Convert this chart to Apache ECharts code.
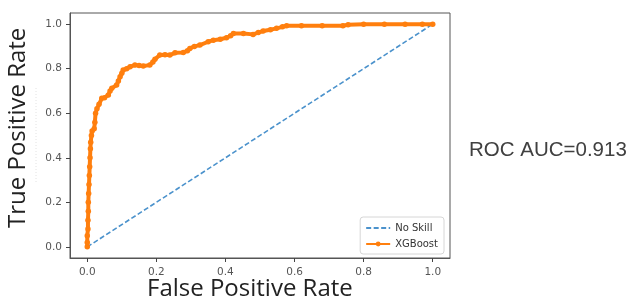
<!DOCTYPE html>
<html>
<head>
<meta charset="utf-8">
<script src="https://cdn.jsdelivr.net/npm/echarts@6/dist/echarts.min.js"></script>
<style>
  html, body { margin: 0; padding: 0; background: #fff; }
  #chart { width: 632px; height: 302px; }
</style>
</head>
<body>
<div id="chart"></div>
<script>
// tick values shown on both axes
const tickValues = [0, 0.2, 0.4, 0.6, 0.8, 1.0];

// No Skill diagonal
const noSkillFpr = [0, 1];
const noSkillTpr = [0, 1];

// XGBoost ROC curve
const xgbFpr = [0, 0, 0, 0.002, 0.002, 0.003, 0.003, 0.004, 0.005, 0.006, 0.007, 0.008, 0.009, 0.010, 0.012, 0.014, 0.020, 0.022, 0.024, 0.028,
  0.034, 0.042, 0.050, 0.061, 0.066, 0.071, 0.085, 0.090, 0.095, 0.100, 0.104, 0.114, 0.124, 0.138, 0.150, 0.162, 0.181, 0.190, 0.196, 0.210,
  0.225, 0.239, 0.254, 0.278, 0.290, 0.297, 0.310, 0.326, 0.350, 0.365, 0.385, 0.403, 0.415, 0.423, 0.452, 0.480, 0.495, 0.509, 0.530, 0.548,
  0.565, 0.577, 0.620, 0.680, 0.740, 0.755, 0.800, 0.860, 0.920, 0.970, 1.0];
const xgbTpr = [0, 0.02, 0.05, 0.08, 0.12, 0.16, 0.20, 0.24, 0.28, 0.32, 0.36, 0.40, 0.44, 0.47, 0.50, 0.52, 0.53, 0.56, 0.60, 0.62,
  0.64, 0.667, 0.67, 0.682, 0.70, 0.712, 0.727, 0.745, 0.764, 0.78, 0.794, 0.80, 0.809, 0.816, 0.814, 0.812, 0.816, 0.83, 0.842, 0.861,
  0.862, 0.861, 0.871, 0.873, 0.88, 0.891, 0.90, 0.906, 0.921, 0.928, 0.932, 0.939, 0.948, 0.958, 0.958, 0.954, 0.962, 0.969, 0.975, 0.981,
  0.988, 0.993, 0.993, 0.993, 0.993, 0.997, 1.0, 1.0, 1.0, 1.0, 1.0];

const aucText = 'ROC AUC=0.913';

const chart = echarts.init(document.getElementById('chart'));

const axisCommon = {
  type: 'value',
  min: -0.05,
  max: 1.05,
  splitLine: { show: false },
  axisLine: { show: true, onZero: false, lineStyle: { color: '#555', width: 1 } },
  axisTick: { show: true, customValues: tickValues, length: 4, lineStyle: { color: '#444' } },
  axisLabel: {
    customValues: tickValues,
    fontFamily: 'DejaVu Sans',
    fontSize: 10.5,
    color: '#555',
    formatter: v => v.toFixed(1)
  }
};

const option = {
  animation: false,
  backgroundColor: '#fff',
  grid: {
    left: 70, right: 182, top: 13, bottom: 44,
    show: true, borderColor: '#555', borderWidth: 1
  },
  xAxis: Object.assign({}, axisCommon, {
    axisLabel: Object.assign({}, axisCommon.axisLabel, { margin: 9 })
  }),
  yAxis: Object.assign({}, axisCommon, {
    axisLabel: Object.assign({}, axisCommon.axisLabel, { margin: 8 })
  }),
  legend: {
    right: 188,
    bottom: 48,
    orient: 'vertical',
    borderColor: '#d6d6d6',
    borderWidth: 1,
    borderRadius: 3,
    padding: [6, 6, 5, 5],
    itemGap: 6,
    itemWidth: 24,
    itemHeight: 6,
    textStyle: { fontFamily: 'DejaVu Sans', fontSize: 10, color: '#333' },
    data: [
      { name: 'No Skill', itemStyle: { color: 'transparent', borderWidth: 0 } },
      { name: 'XGBoost' }
    ]
  },
  series: [
    {
      name: 'No Skill',
      type: 'line',
      data: noSkillFpr.map((x, i) => [x, noSkillTpr[i]]),
      showSymbol: false,
      symbol: 'none',
      color: '#4b92cc',
      lineStyle: { color: '#4b92cc', width: 1.6, type: [5, 2.5] },
      z: 2
    },
    {
      name: 'XGBoost',
      type: 'line',
      data: xgbFpr.map((x, i) => [x, xgbTpr[i]]),
      symbol: 'circle',
      symbolSize: 5.5,
      color: '#ff7f0e',
      itemStyle: { color: '#ff7f0e' },
      lineStyle: { color: '#ff7f0e', width: 4 },
      z: 3
    }
  ],
  graphic: [
    {
      type: 'text',
      left: 147, top: 277,
      style: { text: 'False Positive Rate', font: '24px "Open Sans"', fill: '#222' }
    },
    {
      type: 'text',
      x: 6, y: 228,
      rotation: Math.PI / 2,
      style: { text: 'True Positive Rate', font: '24px "Open Sans"', fill: '#222' }
    },
    {
      type: 'line',
      shape: { x1: 36, y1: 88, x2: 36, y2: 184 },
      style: { stroke: '#e2e2e2', lineWidth: 1, lineDash: [1, 2] }
    },
    {
      type: 'text',
      left: 469, top: 140,
      style: { text: aucText, font: '20.5px "Liberation Sans"', fill: '#404040' }
    }
  ]
};

chart.setOption(option);
window.addEventListener('resize', () => chart.resize());
</script>
</body>
</html>
